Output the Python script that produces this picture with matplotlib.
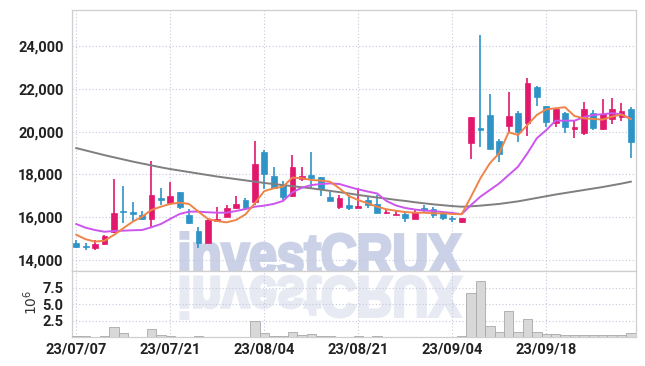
import matplotlib
matplotlib.use('Agg')
import matplotlib.pyplot as plt
import numpy as np
from matplotlib.textpath import TextPath
from matplotlib.patches import PathPatch
from matplotlib.font_manager import FontProperties
from matplotlib.transforms import Affine2D
from matplotlib.ticker import FuncFormatter

# ---------------- data ----------------
tick_positions = [0, 10, 20, 30, 40, 50]
tick_labels = ["23/07/07", "23/07/21", "23/08/04", "23/08/21", "23/09/04", "23/09/18"]

opens = [14780, 14640, 14575, 14735, 15290, 16300, 16250, 16100, 15900, 16880,
         16680, 17160, 16100, 15355, 14810, 15820, 15990, 16440, 16800, 16730,
         19060, 17920, 17550, 16990, 17770, 17970, 17900, 16960, 16490, 16570,
         16440, 16800, 16620, 16180, 16090, 16140, 15900, 16420, 16370, 16180,
         15950, 15790, 19480, 20180, 20760, 19560, 20260, 20860, 20400, 22070,
         21200, 20420, 20880, 20120, 19950, 20860, 20110, 20580, 20700, 21060]
highs = [14935, 14780, 14935, 15170, 17770, 17460, 16720, 16300, 18640, 17380,
         17660, 17200, 16370, 15560, 15950, 16460, 16570, 17010, 16910, 19560,
         19140, 18360, 17690, 18910, 18360, 19060, 17900, 17190, 17050, 17040,
         17350, 16960, 17040, 16370, 16340, 16180, 16400, 16570, 16490, 16250,
         16040, 15980, 20700, 24510, 21740, 19640, 21860, 20940, 22520, 22140,
         21200, 21100, 20900, 20540, 21400, 21000, 21510, 21560, 21350, 21130]
lows = [14560, 14480, 14470, 14700, 15250, 15710, 15790, 15870, 15560, 16570,
        16670, 16400, 15700, 14540, 14810, 15800, 15990, 16400, 16420, 16570,
        17320, 17300, 16800, 16950, 17690, 17350, 16990, 16770, 16380, 16330,
        16440, 16420, 16180, 16140, 16080, 15790, 15900, 16210, 15980, 15870,
        15790, 15740, 18700, 19270, 19190, 18570, 19950, 19530, 19800, 21200,
        20230, 20200, 19920, 19690, 19840, 20060, 20060, 20360, 20480, 18750]
closes = [14620, 14600, 14735, 15120, 16180, 16220, 16170, 15900, 17040, 16800,
          16990, 16460, 15710, 14810, 15870, 15910, 16440, 16620, 16420, 18470,
          18020, 17380, 16930, 18330, 17920, 17850, 17300, 16770, 16910, 16440,
          16540, 16570, 16180, 16230, 16140, 15980, 16260, 16340, 16100, 15980,
          15900, 15980, 20700, 20070, 19190, 18950, 20730, 19980, 22260, 21630,
          20460, 21040, 20230, 20230, 21060, 20160, 20820, 21060, 20960, 19530]
volumes = [0.15, 0.10, 0.05, 0.10, 1.57, 0.59, 0.05, 0.05, 1.23, 0.25,
           0.20, 0.05, 0.05, 0.20, 0.05, 0.05, 0.05, 0.05, 0.05, 2.45,
           0.59, 0.10, 0.10, 0.69, 0.30, 0.39, 0.10, 0.10, 0.05, 0.05,
           0.10, 0.05, 0.15, 0.05, 0.05, 0.05, 0.05, 0.05, 0.05, 0.05,
           0.05, 0.10, 6.72, 8.56, 1.65, 0.82, 3.97, 0.82, 2.66, 0.82,
           0.48, 0.48, 0.34, 0.24, 0.34, 0.24, 0.34, 0.24, 0.24, 0.58]
ma_short = [15180, 14970, 14860, 14900, 15170, 15480, 15790, 16020, 16340, 16490,
            16620, 16680, 16620, 16260, 15920, 15820, 15760, 15870, 16130, 16650,
            17220, 17350, 17430, 17850, 17820, 17740, 17710, 17660, 17350, 16990,
            16800, 16650, 16490, 16370, 16300, 16240, 16210, 16210, 16180, 16180,
            16150, 16140, 16960, 17820, 18520, 18990, 19970, 19840, 20310, 20780,
            21040, 21090, 21140, 20730, 20620, 20590, 20560, 20700, 20800, 20590]
ma_mid = [15680, 15510, 15400, 15320, 15355, 15370, 15390, 15400, 15530, 15680,
          15920, 16150, 16260, 16260, 16230, 16210, 16210, 16290, 16380, 16490,
          16540, 16620, 16760, 17160, 17380, 17500, 17550, 17580, 17550, 17420,
          17300, 17200, 17110, 16760, 16550, 16430, 16360, 16310, 16290, 16240,
          16200, 16140, 16570, 16960, 17270, 17580, 17970, 18360, 18990, 19690,
          20070, 20510, 20510, 20510, 20670, 20780, 20810, 20860, 20810, 20590]
ma_long = [19230, 19120, 19010, 18900, 18800, 18700, 18600, 18510, 18420, 18330,
           18250, 18180, 18110, 18040, 17970, 17900, 17840, 17780, 17720, 17660,
           17600, 17550, 17500, 17450, 17400, 17350, 17290, 17230, 17170, 17110,
           17040, 16980, 16920, 16870, 16810, 16760, 16700, 16650, 16600, 16560,
           16520, 16490, 16510, 16540, 16580, 16620, 16680, 16740, 16820, 16900,
           16980, 17060, 17130, 17200, 17270, 17340, 17410, 17490, 17570, 17660]

# ---------------- style ----------------
UP = '#e2186c'
DOWN = '#2e94c8'
GRID = '#c5c9dc'
SPINE = '#cfcfcf'
W, H = 645, 366
label_font = ['Liberation Sans Narrow', 'Roboto', 'DejaVu Sans']

fig = plt.figure(figsize=(W / 100, H / 100), dpi=100)
L, R = 72, 636
ax = fig.add_axes([L / W, 1 - 271 / H, (R - L) / W, (271 - 10) / H])
axv = fig.add_axes([L / W, 1 - 337 / H, (R - L) / W, (337 - 271) / H], sharex=ax)

x = np.arange(len(closes))

# candles
for i in x:
    o, h, l, c = opens[i], highs[i], lows[i], closes[i]
    col = UP if c >= o else DOWN
    ax.vlines(i, l, h, color=col, lw=1.2, zorder=3)
    bot = min(o, c)
    ht = max(abs(c - o), 60)
    ax.bar(i, ht, bottom=bot, width=0.62, color=col, edgecolor=col, lw=0.5, zorder=3)

ax.plot(x, ma_long, color='#7f7f7f', lw=1.4, zorder=4)
ax.plot(x, ma_mid, color='#cc55ee', lw=1.4, zorder=4)
ax.plot(x, ma_short, color='#ee8448', lw=1.4, zorder=4)

axv.bar(x, volumes, width=1.0, color='#d8d8d8', edgecolor='#a9a9a9', lw=0.6, zorder=3)

ax.set_xlim(-0.45, 59.55)
ax.set_ylim(13486, 25682)
axv.set_ylim(0, 10.0)

ax.set_yticks([14000, 16000, 18000, 20000, 22000, 24000])
ax.yaxis.set_major_formatter(FuncFormatter(lambda v, p: f"{int(v):,}"))
axv.set_yticks([2.5, 5.0, 7.5])
axv.set_xticks(tick_positions)
axv.set_xticklabels(tick_labels)
plt.setp(ax.get_xticklabels(), visible=False)

for a in (ax, axv):
    a.grid(True, color=GRID, ls=(0, (1, 2)), lw=0.8, zorder=0)
    a.tick_params(length=0, pad=6, colors='#222222')
    for s in a.spines.values():
        s.set_color(SPINE)
        s.set_linewidth(0.9)
    for t in a.get_yticklabels() + a.get_xticklabels():
        t.set_fontfamily(label_font)
        t.set_fontweight('bold')
        t.set_fontsize(10.5)
axv.tick_params(axis='x', pad=4)

fig.text(31 / W, 1 - 302 / H, r'$10^6$', rotation=90, ha='center', va='center',
         fontsize=10, color='#333333')

# watermark
fp = FontProperties(family=['Liberation Sans', 'DejaVu Sans'], weight='bold')
tp = TextPath((0, 0), 'investCRUX', size=100, prop=fp)
ext = tp.get_extents()
sx = (461 - 181) / ext.width
sy = 41 / 71.6
tr = Affine2D().translate(-ext.x0, 0).scale(sx, sy).translate(181, H - 274)
ax.add_patch(PathPatch(tp, transform=tr, facecolor='#cbd1e7', edgecolor='#cbd1e7',
                       lw=2.2, zorder=1))
tr2 = Affine2D().translate(-ext.x0, 0).scale(sx, -sy).translate(181, H - 277)
axv.add_patch(PathPatch(tp, transform=tr2, facecolor='#e7e9f3', edgecolor='#e7e9f3',
                        lw=2.2, zorder=1))

fig.savefig('out.png', dpi=100)
